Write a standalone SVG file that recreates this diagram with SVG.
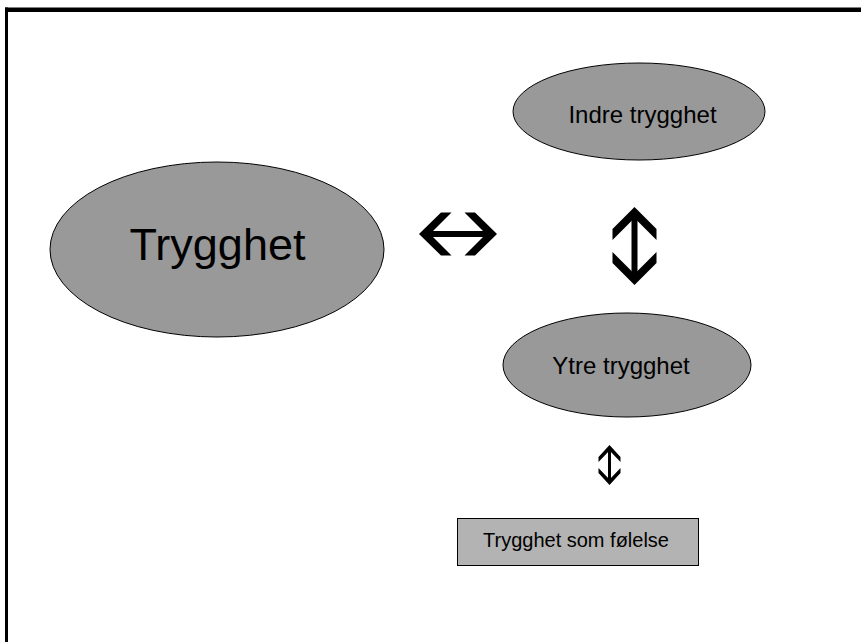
<svg xmlns="http://www.w3.org/2000/svg" width="861" height="642" viewBox="0 0 861 642">
<style>
.node{fill:#999999;stroke:#000;stroke-width:1}
.box{fill:#b3b3b3;stroke:#000;stroke-width:1}
.lbl{font-family:"Liberation Sans",Arial,sans-serif;fill:#000;text-anchor:middle}
.arr{fill:#000;stroke:none}
</style>
<rect x="0" y="0" width="861" height="642" fill="#fff"/>
<g id="frame">
<rect x="5" y="7.5" width="856" height="4.5" fill="#000"/>
<rect x="5" y="7.5" width="3" height="635" fill="#000"/>
</g>
<g id="node-trygghet">
<ellipse class="node" cx="217" cy="249.5" rx="167" ry="87.5"/>
<text class="lbl" x="217.5" y="260" font-size="45">Trygghet</text>
</g>
<g id="node-indre">
<ellipse class="node" cx="639" cy="111.5" rx="126" ry="48.5"/>
<text class="lbl" x="642.5" y="123" font-size="24">Indre trygghet</text>
</g>
<g id="node-ytre">
<ellipse class="node" cx="627" cy="365" rx="124" ry="52"/>
<text class="lbl" x="621" y="374" font-size="24">Ytre trygghet</text>
</g>
<g id="node-folelse">
<rect class="box" x="457.5" y="518.5" width="241" height="47"/>
<text class="lbl" x="576" y="547" font-size="20">Trygghet som følelse</text>
</g>
<g id="connectors">
<g id="arrow-h">
<polygon class="arr" points="419,234 441,212.5 451.5,212.5 430,234 451.5,255.5 441,255.5"/>
<polygon class="arr" points="497,234 475,212.5 464.5,212.5 486,234 464.5,255.5 475,255.5"/>
<rect class="arr" x="426" y="231" width="64" height="6"/>
</g>
<g id="arrow-v1">
<polygon class="arr" points="634.5,207 656.5,229 656.5,240 634.5,218 612.5,240 612.5,229"/>
<polygon class="arr" points="634.5,285 656.5,263 656.5,252 634.5,274 612.5,252 612.5,263"/>
<rect class="arr" x="631.5" y="212" width="6" height="68"/>
</g>
<g id="arrow-v2">
<polygon class="arr" points="609.5,445 620.5,457 620.5,462 609.5,450.5 598.5,462 598.5,457"/>
<polygon class="arr" points="609.5,485 620.5,473 620.5,468 609.5,479.5 598.5,468 598.5,473"/>
<rect class="arr" x="608" y="448" width="3" height="34"/>
</g>
</g>
</svg>
